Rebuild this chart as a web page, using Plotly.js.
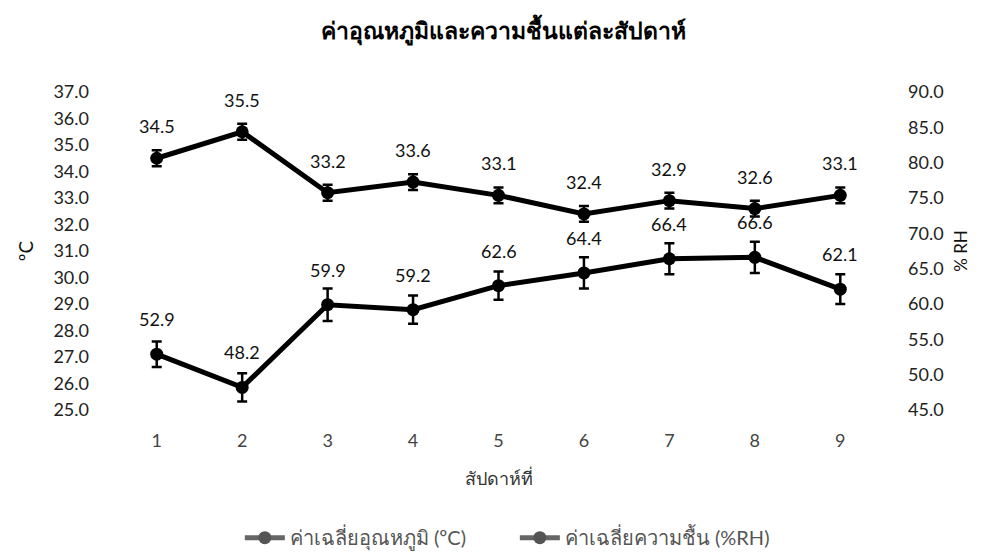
<!DOCTYPE html>
<html>
<head>
<meta charset="utf-8">
<script src="https://cdn.plot.ly/plotly-3.0.1.min.js"></script>
<style>html,body{margin:0;padding:0;background:#fff;}#chart{width:992px;height:556px;}</style>
</head>
<body>
<div id="chart"></div>
<script>
const weeks = [1, 2, 3, 4, 5, 6, 7, 8, 9];
const tempValues = [34.5, 35.5, 33.2, 33.6, 33.1, 32.4, 32.9, 32.6, 33.1];
const tempErrors = [0.3, 0.3, 0.3, 0.3, 0.3, 0.3, 0.3, 0.3, 0.3];
const humidValues = [52.9, 48.2, 59.9, 59.2, 62.6, 64.4, 66.4, 66.6, 62.1];
const humidErrors = [1.8, 2.0, 2.3, 2.0, 2.0, 2.2, 2.2, 2.2, 2.1];
const tempTicks = [25,26,27,28,29,30,31,32,33,34,35,36,37];
const humidTicks = [45,50,55,60,65,70,75,80,85,90];
const tempName = 'ค่าเฉลี่ยอุณหภูมิ (ºC)';
const humidName = 'ค่าเฉลี่ยความชื้น (%RH)';
const chartTitle = 'ค่าอุณหภูมิและความชื้นแต่ละสัปดาห์';
const xTitle = 'สัปดาห์ที่';

const FONT = "Lato, 'Noto Sans', 'DejaVu Sans', sans-serif";

function seriesTrace(y, err, axis) {
  return {
    x: weeks, y: y, type: 'scatter', mode: 'lines+markers', showlegend: false,
    line: {color: '#000', width: 5}, marker: {color: '#000', size: 13},
    error_y: {type: 'data', array: err, visible: true, color: '#000', thickness: 2.5, width: 5},
    yaxis: axis, cliponaxis: false, hoverinfo: 'skip'
  };
}
function legendTrace(name) {
  return {
    x: [null], y: [null], type: 'scatter', mode: 'lines+markers', name: name, showlegend: true,
    line: {color: '#666', width: 5}, marker: {color: '#555', size: 13}
  };
}

const traces = [
  seriesTrace(tempValues, tempErrors, 'y'),
  seriesTrace(humidValues, humidErrors, 'y2'),
  legendTrace(tempName),
  legendTrace(humidName)
];

const annotations = [];
tempValues.forEach((v, i) => annotations.push({
  x: weeks[i], y: v, xref: 'x', yref: 'y', text: v.toFixed(1), showarrow: false,
  yshift: 32, yanchor: 'middle', font: {size: 18, color: '#111', family: FONT}
}));
humidValues.forEach((v, i) => annotations.push({
  x: weeks[i], y: v, xref: 'x', yref: 'y2', text: v.toFixed(1), showarrow: false,
  yshift: 35, yanchor: 'middle', font: {size: 18, color: '#111', family: FONT}
}));

const layout = {
  width: 992, height: 556,
  margin: {l: 114, r: 109, t: 92, b: 146},
  paper_bgcolor: '#fff', plot_bgcolor: '#fff',
  font: {family: FONT, color: '#222', size: 17},
  title: {text: '<b>' + chartTitle + '</b>', font: {size: 23, color: '#000', family: FONT},
          x: 0.508, xref: 'container', xanchor: 'center', y: 0.945, yref: 'container', yanchor: 'middle'},
  showlegend: true,
  legend: {orientation: 'h', x: 0.519, xanchor: 'center', xref: 'container', y: 0.033, yref: 'container', yanchor: 'middle',
           font: {size: 20, color: '#555', family: FONT}, itemwidth: 40, traceorder: 'normal',
           entrywidth: 220, entrywidthmode: 'pixels'},
  annotations: annotations,
  xaxis: {
    range: [0.5, 9.5], tickvals: weeks, ticktext: weeks.map(String), showgrid: false, zeroline: false, showline: false,
    ticks: '', tickfont: {size: 18, color: '#444'}, ticklabelstandoff: 18,
    title: {text: xTitle, font: {size: 18, color: '#333'}, standoff: 22}
  },
  yaxis: {
    range: [25, 37], tickvals: tempTicks, ticktext: tempTicks.map(v => v.toFixed(1)),
    showgrid: false, zeroline: false, showline: false, ticks: '',
    tickfont: {size: 18, color: '#222'}, ticklabelstandoff: 24,
    title: {text: 'ºC', font: {size: 19, color: '#111'}, standoff: 14}
  },
  yaxis2: {
    range: [45, 90], tickvals: humidTicks, ticktext: humidTicks.map(v => v.toFixed(1)),
    overlaying: 'y', side: 'right', showgrid: false, zeroline: false, showline: false, ticks: '',
    tickfont: {size: 18, color: '#222'}, ticklabelstandoff: 24,
    title: {text: '% RH', font: {size: 17, color: '#111'}, standoff: 12}
  }
};

Plotly.newPlot('chart', traces, layout, {displayModeBar: false, staticPlot: true});
</script>
</body>
</html>
